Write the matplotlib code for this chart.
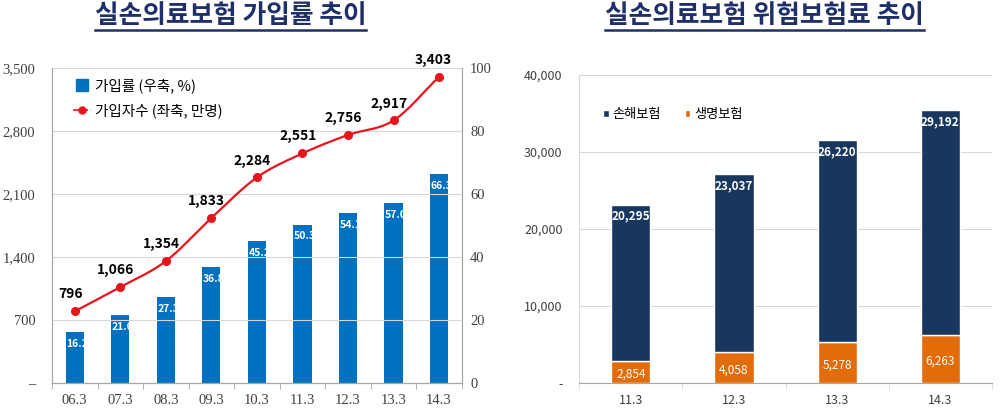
import numpy as np
import matplotlib
matplotlib.use("Agg")
import matplotlib.pyplot as plt
from matplotlib.lines import Line2D

plt.rcParams['font.family'] = ['Noto Sans CJK KR', 'DejaVu Sans']

# left chart data
periods = ['06.3', '07.3', '08.3', '09.3', '10.3', '11.3', '12.3', '13.3', '14.3']
rate = [16.2, 21.6, 27.3, 36.8, 45.2, 50.3, 54.1, 57.0, 66.3]          # 가입률 (%)
members = [796, 1066, 1354, 1833, 2284, 2551, 2756, 2917, 3403]       # 가입자수 (만명)

# right chart data
years = ['11.3', '12.3', '13.3', '14.3']
nonlife = [20295, 23037, 26220, 29192]   # 손해보험
life = [2854, 4058, 5278, 6263]          # 생명보험

BLUE = '#0070C0'
RED = '#E8141B'
NAVY = '#17375E'
ORANGE = '#E36C0A'
TITLE = '#1F3068'
GRID = '#D9D9D9'
SPINE = '#A6A6A6'


def catmull_rom(x, y, n=20):
    # smooth curve through the points (Excel-like smoothed line)
    x = np.asarray(x, float)
    y = np.asarray(y, float)
    px = np.concatenate([[2 * x[0] - x[1]], x, [2 * x[-1] - x[-2]]])
    py = np.concatenate([[2 * y[0] - y[1]], y, [2 * y[-1] - y[-2]]])
    xs, ys = [], []
    t = np.linspace(0, 1, n)
    for i in range(1, len(px) - 2):
        for p, out in ((px, xs), (py, ys)):
            p0, p1, p2, p3 = p[i - 1], p[i], p[i + 1], p[i + 2]
            out.extend(0.5 * (2 * p1 + (-p0 + p2) * t + (2 * p0 - 5 * p1 + 4 * p2 - p3) * t**2
                              + (-p0 + 3 * p1 - 3 * p2 + p3) * t**3))
    return np.array(xs), np.array(ys)


fig = plt.figure(figsize=(10.02, 4.12), dpi=100)
fig.patch.set_facecolor('white')

# ---------------- left chart ----------------
ax1 = fig.add_axes([0.0519, 0.0704, 0.409, 0.7646])
ax2 = ax1.twinx()
x = np.arange(len(periods))

ax2.set_ylim(0, 100)
bars = ax2.bar(x, rate, width=0.4, color=BLUE, zorder=2)
for b, v in zip(bars, rate):
    t = ax2.text(b.get_x() + 0.01, v - 2.2, f'{v:.1f}', color='white', fontsize=7.5,
                 fontweight='bold', ha='left', va='top', zorder=3)
    t.set_clip_path(b)

ax1.set_ylim(0, 3500)
ax1.set_xlim(-0.5, len(periods) - 0.5)
ax1.set_yticks(np.arange(0, 3501, 700))
ax1.set_yticklabels(['–'] + [f'{v:,}' for v in range(700, 3501, 700)])
ax1.grid(axis='y', color=GRID, linewidth=0.8)
ax1.set_axisbelow(True)
ax1.set_zorder(ax2.get_zorder() + 1)
ax1.patch.set_visible(False)

sx, sy = catmull_rom(x, members)
ax1.plot(sx, sy, color=RED, linewidth=1.6, zorder=4)
ax1.plot(x, members, 'o', color=RED, markersize=5.5, zorder=5)
for i, v in enumerate(members):
    dx = -0.12 if i == len(members) - 1 else -0.1
    ax1.text(i + dx, v + 110, f'{v:,}', fontsize=10, fontweight='bold', ha='center',
             va='bottom', color='black', zorder=6)

ax2.set_yticks(np.arange(0, 101, 20))
ax1.set_xticks(x)
ax1.set_xticklabels(periods)
ax1.set_xticks(np.arange(-0.5, len(periods), 1), minor=True)
ax1.tick_params(axis='x', which='major', length=0, pad=8)
ax1.tick_params(axis='x', which='minor', length=4, color=SPINE)
ax1.tick_params(axis='y', length=0, pad=12)
ax2.tick_params(axis='y', length=0, pad=6)
for a in (ax1, ax2):
    for lab in a.get_xticklabels() + a.get_yticklabels():
        lab.set_family(['Liberation Serif'])
        lab.set_fontsize(10.5)
        lab.set_color('#404040')
    a.spines['top'].set_visible(False)
    for s in ('left', 'right', 'bottom'):
        a.spines[s].set_color(SPINE)

handles = [
    Line2D([], [], marker='s', linestyle='none', color=BLUE, markersize=8),
    Line2D([], [], marker='o', linestyle='--', color=RED, markersize=5, linewidth=1.2),
]
ax1.legend(handles, ['가입률 (우축, %)', '가입자수 (좌축, 만명)'], loc='upper left',
           bbox_to_anchor=(0.02, 1.01), frameon=False, fontsize=10.5, handlelength=1.2,
           handletextpad=0.3, labelspacing=0.7)

# ---------------- right chart ----------------
ax3 = fig.add_axes([0.578, 0.0704, 0.412, 0.7476])
xr = np.arange(len(years))
b_life = ax3.bar(xr, life, width=0.38, color=ORANGE, edgecolor='white', linewidth=1.0,
                 zorder=2, label='생명보험')
b_non = ax3.bar(xr, nonlife, width=0.38, bottom=life, color=NAVY, edgecolor='white',
                linewidth=1.0, zorder=2, label='손해보험')
for i in range(len(years)):
    ax3.text(i, life[i] / 2 - 300, f'{life[i]:,}', color='white', fontsize=8.5,
             ha='center', va='center', zorder=3)
    ax3.text(i, life[i] + nonlife[i] - 1500, f'{nonlife[i]:,}', color='white',
             fontsize=8.5, fontweight='bold', ha='center', va='center', zorder=3)

ax3.set_xlim(-0.5, len(years) - 0.5)
ax3.set_ylim(0, 40000)
ax3.set_yticks(np.arange(0, 40001, 10000))
ax3.set_yticklabels(['-'] + [f'{v:,}' for v in range(10000, 40001, 10000)])
ax3.grid(axis='y', color=GRID, linewidth=0.8)
ax3.set_axisbelow(True)
ax3.set_xticks(xr)
ax3.set_xticklabels(years)
ax3.set_xticks(np.arange(-0.5, len(years), 1), minor=True)
ax3.tick_params(axis='x', which='major', length=0, pad=8)
ax3.tick_params(axis='x', which='minor', length=4, color=GRID)
ax3.tick_params(axis='y', length=0, pad=12)
for lab in ax3.get_xticklabels() + ax3.get_yticklabels():
    lab.set_fontsize(9)
    lab.set_color('#404040')
for s in ('top', 'right'):
    ax3.spines[s].set_visible(False)
ax3.spines['left'].set_color(GRID)
ax3.spines['bottom'].set_color(SPINE)
ax3.legend([b_non, b_life], ['손해보험', '생명보험'], loc='upper left',
           bbox_to_anchor=(0.03, 0.93), ncol=2, frameon=False, fontsize=9.5,
           handlelength=0.4, handleheight=0.4, handletextpad=0.3, columnspacing=1.8)

# ---------------- titles (underlined) ----------------
fig.canvas.draw()
renderer = fig.canvas.get_renderer()
for xc, txt in ((0.23, '실손의료보험 가입률 추이'), (0.763, '실손의료보험 위험보험료 추이')):
    t = fig.text(xc, 0.962, txt, fontsize=18.5, fontweight='bold', color=TITLE,
                 ha='center', va='center')
    bb = t.get_window_extent(renderer).transformed(fig.transFigure.inverted())
    fig.add_artist(Line2D([bb.x0, bb.x1], [bb.y0 - 0.002, bb.y0 - 0.002],
                          transform=fig.transFigure, color=TITLE, linewidth=1.8))

fig.savefig('out.png', dpi=100, facecolor='white')
